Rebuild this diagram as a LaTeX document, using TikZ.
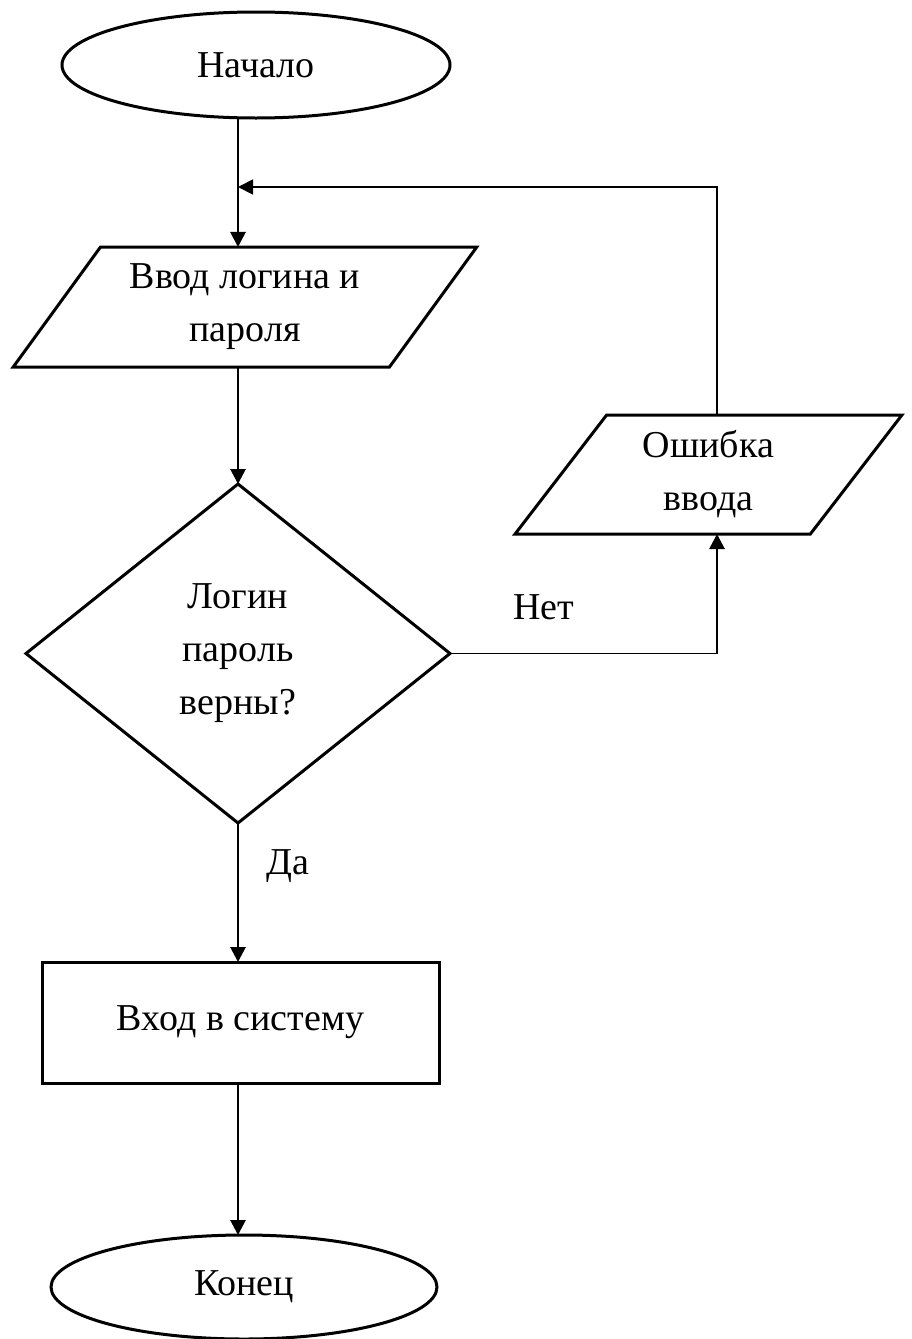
\documentclass[tikz,border=0pt]{standalone}
\usepackage{fontspec}
\setmainfont{Liberation Serif}
\newfontfamily\flowfont{Liberation Serif}
\usetikzlibrary{arrows.meta, positioning, shapes.geometric}
\tikzset{
  every picture/.style={font=\flowfont\fontsize{19pt}{26.5pt}\selectfont, line width=1.5pt},
  term/.style={draw, ellipse, inner sep=0pt, outer sep=0pt, minimum width=194pt, minimum height=53pt},
  io/.style={draw, trapezium, trapezium stretches=true, align=center, inner sep=2pt, outer sep=0pt},
  decide/.style={draw, diamond, align=center, inner sep=0pt, outer sep=0pt, minimum width=212pt, minimum height=169.5pt},
  proc/.style={draw, rectangle, inner sep=0pt, outer sep=0pt, minimum width=198.5pt, minimum height=60.5pt},
  arrow/.style={-{Triangle[length=7.5pt, width=7.5pt]}, line width=1.4pt},
  loopline/.style={line width=0.9pt},
}

\begin{document}
\begin{tikzpicture}[x=0.5pt, y=-0.5pt]
  \useasboundingbox (0,0) rectangle (911,1339);
  % blocks
  \node[term] (start) at (256,65) {Начало};
  \node[io, trapezium left angle=52.5, trapezium right angle=127.5, minimum width=232pt, minimum height=60pt] (inp) at (245,307) {Ввод логина и\\пароля};
  \node[decide] (dec) at (238,653.5) {Логин\\пароль\\верны?};
  \node[io, trapezium left angle=56.8, trapezium right angle=123.2, minimum width=193.5pt, minimum height=59.5pt] (err) at (708.5,474.5) {Ошибка\\ввода};
  \node[proc] (login) at (240.5,1022.5) {Вход в систему};
  \node[term, minimum width=193pt, minimum height=52pt] (stop) at (244,1287) {Конец};
  % main line
  \draw[arrow] (start.south -| dec.north) -- (inp.north -| dec.north);
  \draw[arrow] (inp.south -| dec.north) -- (dec.north);
  \draw[arrow] (dec.south) -- (login.north -| dec.south);
  \draw[arrow] (login.south -| dec.south) -- (stop.north -| dec.south);
  % wrong input
  \coordinate (c1) at (717,653.5);
  \coordinate (c2) at (717,187);
  \draw[loopline] (dec.east) -- (c1);
  \draw[arrow] (c1) -- (c1 |- err.south);
  \draw[arrow, loopline] (c2 |- err.north) -- (c2) -- (c2 -| dec.north);
  \node (no) at (544,607) {Нет};
  \node (yes) at (288,866) {Да};
\end{tikzpicture}
\end{document}
